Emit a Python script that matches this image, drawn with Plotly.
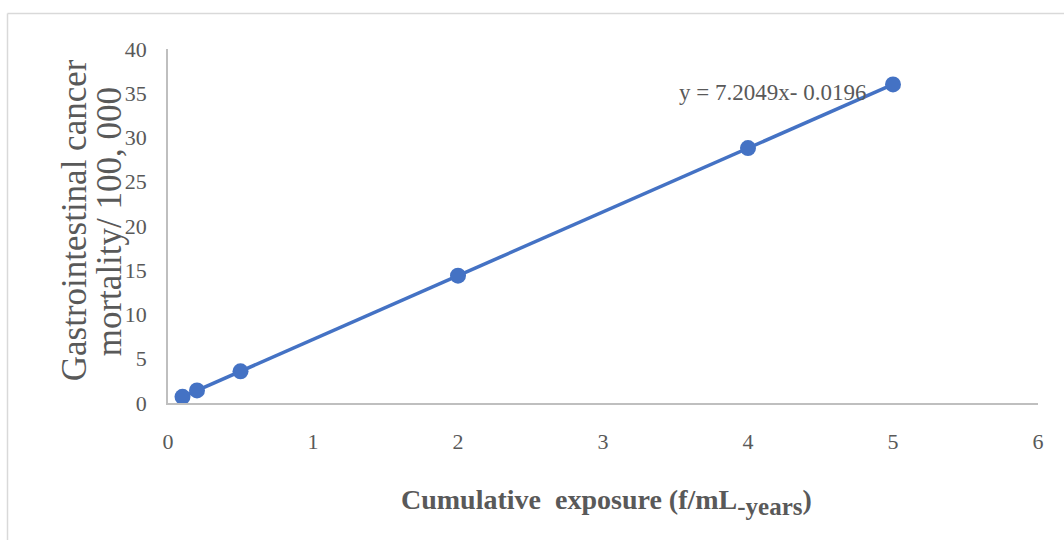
import numpy as np
import plotly.graph_objects as go

# Data
exposure = [0.1, 0.2, 0.5, 2, 4, 5]
mortality = [0.70, 1.42, 3.58, 14.39, 28.80, 36.0]
x_ticks = [0, 1, 2, 3, 4, 5, 6]
y_ticks = [0, 5, 10, 15, 20, 25, 30, 35, 40]
equation_label = "y = 7.2049x- 0.0196"
x_title_main = "Cumulative  exposure (f/mL"
x_title_sub = "-years"
x_title_end = ")"
y_title_1 = "Gastrointestinal cancer"
y_title_2 = "mortality/ 100, 000"

W, H = 1064, 540
L, R, T, B = 168, 26, 48.5, 137
pw, ph = W - L - R, H - T - B

def px(xp):
    return (xp - L) / pw

def py(yp):
    return 1 - (yp - T) / ph

blue = "#4472C4"
grey_text = "#595959"

slope, intercept = np.polyfit(exposure, mortality, 1)
xfit = np.array([min(exposure), max(exposure)])
yfit = slope * xfit + intercept

fig = go.Figure()
fig.add_trace(go.Scatter(x=xfit, y=yfit, mode="lines",
                         line=dict(color=blue, width=3.5), showlegend=False,
                         hoverinfo="skip"))
fig.add_trace(go.Scatter(x=exposure, y=mortality, mode="markers",
                         marker=dict(color=blue, size=16), showlegend=False))

x_title = ("<b>" + x_title_main + "<sub><span style='font-size:25px'>" + x_title_sub
           + "</span></sub>" + x_title_end + "</b>")

fig.update_layout(
    width=W, height=H,
    margin=dict(l=L, r=R, t=T, b=B),
    paper_bgcolor="white", plot_bgcolor="white",
    font=dict(family="Liberation Serif", color=grey_text, size=22),
    xaxis=dict(range=[0, 6], tickvals=x_ticks, showgrid=False, zeroline=False,
               showline=True, linecolor="#BFBFBF", linewidth=1.5, ticks="",
               ticklabelstandoff=18, tickfont=dict(size=22, color=grey_text),
               fixedrange=True),
    yaxis=dict(range=[0, 40], tickvals=y_ticks, showgrid=False, zeroline=False,
               showline=True, linecolor="#BFBFBF", linewidth=1.5, ticks="",
               ticklabelstandoff=15, tickfont=dict(size=22, color=grey_text),
               fixedrange=True),
    shapes=[
        dict(type="line", xref="paper", yref="paper", x0=px(7.5), x1=px(W + 5),
             y0=py(13), y1=py(13), line=dict(color="#D9D9D9", width=1.5)),
        dict(type="line", xref="paper", yref="paper", x0=px(7.5), x1=px(7.5),
             y0=py(13), y1=py(H + 5), line=dict(color="#D9D9D9", width=1.5)),
    ],
    annotations=[
        dict(text=equation_label, xref="paper", yref="paper", x=px(772), y=py(92),
             showarrow=False, xanchor="center", yanchor="middle",
             font=dict(size=23, color=grey_text, family="Liberation Serif")),
        dict(text=x_title, xref="paper", yref="paper",
             x=px(606), y=py(502), showarrow=False, xanchor="center", yanchor="middle",
             font=dict(size=28, color=grey_text, family="Liberation Serif")),
        dict(text=y_title_1, xref="paper", yref="paper", x=px(74), y=py(220),
             showarrow=False, textangle=-90, xanchor="center", yanchor="middle",
             font=dict(size=35, color=grey_text, family="Liberation Serif")),
        dict(text=y_title_2, xref="paper", yref="paper", x=px(109), y=py(222),
             showarrow=False, textangle=-90, xanchor="center", yanchor="middle",
             font=dict(size=35, color=grey_text, family="Liberation Serif")),
    ],
)

fig.write_html("out.html")
